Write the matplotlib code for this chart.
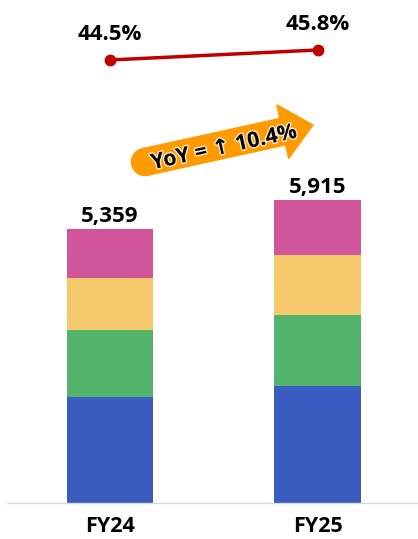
import matplotlib.pyplot as plt
import matplotlib.patheffects as pe
from matplotlib.patches import FancyArrow, Circle
import numpy as np

plt.rcParams['font.family'] = ['Open Sans', 'DejaVu Sans']

# revenue split by segment (stacked bottom to top)
years = ["FY24", "FY25"]
seg_blue = [2073, 2290]
seg_green = [1297, 1380]
seg_yellow = [1031, 1171]
seg_pink = [958, 1074]
totals = [5359, 5915]
margin_pct = [44.5, 45.8]
yoy_text = "YoY = \u2191 10.4%"

COLORS = ['#3A5CC0', '#52B36A', '#F6C96D', '#D0559B']

fig = plt.figure(figsize=(4.18, 5.39), dpi=100)
ax = fig.add_axes([7 / 418, 36 / 539, 411 / 418, 503 / 539])

x = np.arange(len(years))
bottom = np.zeros(len(years))
for vals, col in zip([seg_blue, seg_green, seg_yellow, seg_pink], COLORS):
    ax.bar(x, vals, width=0.417, bottom=bottom, color=col, zorder=2)
    bottom += np.array(vals)

for xi, t in zip(x, totals):
    ax.annotate(f"{t:,}", (xi, t), xytext=(0, 5), textcoords='offset points',
                ha='center', va='baseline', fontsize=16, fontweight='bold')

ax.set_xlim(-0.496, 1.484)
ax.set_ylim(0, 9820)
ax.set_xticks(x)
ax.set_xticklabels(years, fontsize=15.5, fontweight='bold')
ax.tick_params(axis='x', length=0, pad=9)
ax.set_yticks([])
for s in ['top', 'right', 'left']:
    ax.spines[s].set_visible(False)
ax.spines['bottom'].set_color('#D9D9D9')
ax.spines['bottom'].set_linewidth(1)

# margin line on its own scale
ax2 = ax.twinx()
ax2.set_ylim(-13.1, 52.3)
ax2.plot(x, margin_pct, color='#C00000', linewidth=2.5, marker='o', markersize=7.5, zorder=3)
for xi, p in zip(x, margin_pct):
    ax2.annotate(f"{p}%", (xi, p), xytext=(0, 18), textcoords='offset points',
                 ha='center', va='center', fontsize=16, fontweight='bold')
ax2.axis('off')

# growth arrow (inch coordinates)
tr = fig.dpi_scale_trans
tail = (1.45, 3.77)
tip = (3.13, 4.14)
dx, dy = tip[0] - tail[0], tip[1] - tail[1]
arrow = FancyArrow(tail[0], tail[1], dx, dy, width=0.27, head_width=0.55,
                   head_length=0.31, length_includes_head=True,
                   color='#FF9A00', transform=tr, zorder=5)
fig.patches.append(arrow)
fig.patches.append(Circle(tail, 0.135, color='#FF9A00', transform=tr, zorder=5))
angle = np.degrees(np.arctan2(dy, dx))
fig.text(2.24 / 4.18, (5.39 - 1.48) / 5.39, yoy_text, rotation=angle,
         rotation_mode='anchor', ha='center', va='center', fontsize=15.5,
         fontweight='bold', color='black', zorder=6,
         path_effects=[pe.withStroke(linewidth=2, foreground='#FFE9C8')])

fig.savefig('out.png', dpi=100)
